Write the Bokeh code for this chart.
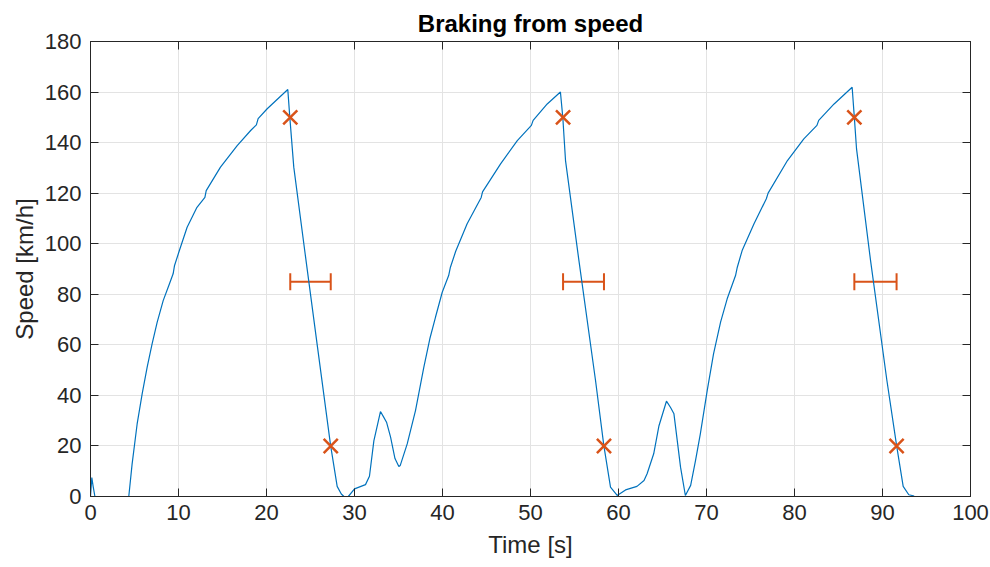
from bokeh.plotting import figure
from bokeh.models import ColumnDataSource, Whisker, TeeHead, FixedTicker, LinearAxis, Range1d
from bokeh.embed import file_html
from bokeh.resources import INLINE

# ---- data ----
time_s = [0, 0.15, 0.3, 0.5, 4.35, 4.73, 5.3, 5.87, 6.44, 7.0, 7.58, 8.26, 8.9, 9.39, 9.55, 10.1,
          10.98, 12.1, 13.0, 13.15, 14.77, 16.67, 18.2, 18.85, 19.05, 20.08, 22.42, 22.65, 23.1,
          24.43, 25.8, 27.27, 28.03, 28.5, 28.8, 29.3, 30.0, 31.25, 31.7, 32.2, 32.95, 33.3, 33.64,
          34.1, 34.6, 35.04, 35.2, 35.99, 36.93, 37.88, 38.56, 39.2, 39.97, 40.7, 40.9, 41.5, 42.8,
          44.4, 44.55, 46.6, 48.5, 50.1, 50.3, 51.9, 53.4, 53.67, 53.98, 55.5, 57.39, 58.33, 59.09,
          59.85, 60.8, 62.1, 62.9, 63.25, 64.0, 64.6, 65.45, 65.9, 66.3, 67.05, 67.6, 68.2, 68.75,
          69.3, 70.08, 70.8, 71.6, 72.35, 73.3, 73.5, 74.05, 75.4, 76.8, 77.0, 79.2, 81.06, 82.55,
          82.75, 84.5, 86.55, 86.8, 87.05, 88.64, 90.5, 91.6, 92.35, 92.99, 93.6]
speed_kmh = [0, 7.5, 4, 0, 0, 12.9, 28.7, 40.6, 51.2, 60.4, 69, 77.5, 83.5, 88.1, 91.4, 97.3,
             106.5, 114.4, 118.3, 121, 130.3, 138.8, 144.8, 147, 149.5, 153.4, 161, 150, 130.3,
             95, 59, 20.5, 4, 1, 0, 0, 3, 4.7, 8, 22, 33.6, 31.5, 29.4,
             23.5, 15, 11.9, 12.3, 20.8, 34, 51.2, 62.4, 70.9, 80.8, 87.4, 90.7, 97, 107.9,
             118.3, 120.5, 131.6, 140.8, 146.8, 148.8, 155.3, 160, 150, 132.9, 93.4, 45.9, 20.2, 3.7,
             0.4, 2.6, 4, 6.3, 9, 16.9, 28, 37.7, 35.3, 32.7, 11.6, 0.4, 4.4, 14.2,
             24.8, 41.9, 56.4, 69, 78.2, 87.4, 90.7, 97.3, 107.9, 117.8, 120, 132.9, 141.5, 146.8,
             148.8, 155.3, 161.9, 150, 137.5, 93.4, 45.9, 20.2, 4, 0.7, 0.2]

mark_t = [22.7, 27.3, 53.7, 58.35, 86.8, 91.6]
mark_v = [150, 20, 150, 20, 150, 20]

bar_y = [85, 85, 85]
bar_lo = [22.7, 53.7, 86.8]
bar_hi = [27.3, 58.35, 91.6]

x_ticks = [0, 10, 20, 30, 40, 50, 60, 70, 80, 90, 100]
y_ticks = [0, 20, 40, 60, 80, 100, 120, 140, 160, 180]

BLUE = "#0072BD"
ORANGE = "#D95319"
AX = "#262626"
FONT = "Liberation Sans"

p = figure(width=990, height=567, output_backend="svg", toolbar_location=None,
           x_range=Range1d(0, 100), y_range=Range1d(0, 180),
           min_border_left=90, min_border_right=20, min_border_top=41, min_border_bottom=71,
           background_fill_color="white", border_fill_color="white")

p.title.text = "Braking from speed"
p.title.align = "center"
p.title.text_font = FONT
p.title.text_font_style = "bold"
p.title.text_font_size = "24px"
p.title.text_color = "black"
p.title.standoff = 9

p.line(time_s, speed_kmh, line_color=BLUE, line_width=1.2)

wsrc = ColumnDataSource(dict(y=bar_y, lo=bar_lo, hi=bar_hi))
p.add_layout(Whisker(source=wsrc, base="y", lower="lo", upper="hi", dimension="width",
                     line_color=ORANGE, line_width=2,
                     upper_head=TeeHead(size=17, line_color=ORANGE, line_width=2),
                     lower_head=TeeHead(size=17, line_color=ORANGE, line_width=2)))

p.scatter(mark_t, mark_v, marker="x", size=20, line_color=ORANGE, line_width=2.5)

# axes styling
for ax, ticks in ((p.xaxis[0], x_ticks), (p.yaxis[0], y_ticks)):
    ax.ticker = FixedTicker(ticks=ticks)
    ax.major_tick_in = 8
    ax.major_tick_out = 0
    ax.minor_tick_in = 0
    ax.minor_tick_out = 0
    ax.axis_line_color = AX
    ax.major_tick_line_color = AX
    ax.major_label_text_color = AX
    ax.major_label_text_font = FONT
    ax.major_label_text_font_size = "22px"
    ax.axis_label_text_font = FONT
    ax.axis_label_text_font_size = "24px"
    ax.axis_label_text_font_style = "normal"
    ax.axis_label_text_color = AX

p.xaxis.axis_label = "Time [s]"
p.yaxis.axis_label = "Speed [km/h]"
p.xaxis.major_label_standoff = 8
p.yaxis.major_label_standoff = 9
p.xaxis.axis_label_standoff = 8
p.yaxis.axis_label_standoff = 4

right = LinearAxis(ticker=FixedTicker(ticks=y_ticks), major_tick_in=8, major_tick_out=0,
                   minor_tick_in=0, minor_tick_out=0,
                   major_label_overrides={t: "" for t in y_ticks},
                   major_label_standoff=0, axis_line_color=AX, major_tick_line_color=AX)
top = LinearAxis(ticker=FixedTicker(ticks=x_ticks), major_tick_in=8, major_tick_out=0,
                 minor_tick_in=0, minor_tick_out=0,
                 major_label_overrides={t: "" for t in x_ticks},
                 major_label_standoff=0, axis_line_color=AX, major_tick_line_color=AX)
p.add_layout(right, "right")
p.add_layout(top, "above")

p.xgrid.ticker = FixedTicker(ticks=x_ticks)
p.ygrid.ticker = FixedTicker(ticks=y_ticks)
p.grid.grid_line_color = "#e3e3e3"
p.grid.grid_line_width = 1
p.outline_line_color = AX

open("out.html", "w").write(file_html(p, INLINE))
